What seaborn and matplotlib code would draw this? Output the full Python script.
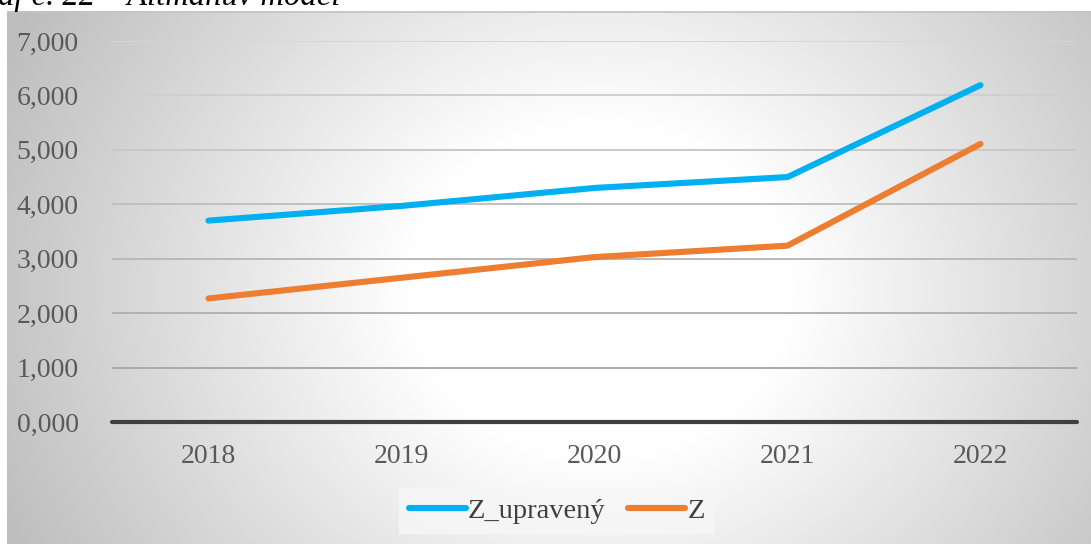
import numpy as np
import pandas as pd
import matplotlib
matplotlib.use("Agg")
import matplotlib.pyplot as plt
import seaborn as sns
from matplotlib.ticker import FuncFormatter

# values
years = ["2018", "2019", "2020", "2021", "2022"]
z_upraveny = [3.70, 3.97, 4.30, 4.50, 6.19]
z = [2.27, 2.65, 3.03, 3.24, 5.11]
series_names = ["Z_upravený", "Z"]
yticks = [0, 1, 2, 3, 4, 5, 6, 7]

df = pd.DataFrame({
    "year": years * 2,
    "value": z_upraveny + z,
    "series": [series_names[0]] * len(years) + [series_names[1]] * len(years),
})

sns.set_theme(style="white")
plt.rcParams["font.family"] = ["Liberation Serif", "DejaVu Serif"]

W, H = 1091, 544
fig = plt.figure(figsize=(W / 100, H / 100), dpi=100)
fig.patch.set_facecolor("white")

# chart area with radial gradient (white centre, grey edges)
box_l, box_t = 7, 11
bg = fig.add_axes([box_l / W, 0, 1 - box_l / W, (H - box_t) / H])
bw, bh = W - box_l, H - box_t
xx, yy = np.meshgrid(np.arange(bw) + box_l, np.arange(bh) + box_t)
d = np.hypot(xx - 600, (yy - 290) * 1.15)
t = np.clip((d - 190) / 470, 0, 1)
lvl = (255 - t * 66) / 255
img = np.dstack([lvl, lvl, lvl])
bg.imshow(img, aspect="auto", interpolation="bilinear")
bg.plot([-0.5, bw], [0.2, 0.2], color="#c4c4c4", lw=1.2)
bg.set_xlim(-0.5, bw - 0.5)
bg.set_ylim(bh - 0.5, -0.5)
bg.set_axis_off()

ax = fig.add_axes([112 / W, (H - 422) / H, (1077 - 112) / W, (422 - 41) / H])
ax.set_facecolor("none")

palette = {series_names[0]: "#00B0F0", series_names[1]: "#ED7D31"}
sns.lineplot(data=df, x="year", y="value", hue="series", palette=palette,
             linewidth=4.4, ax=ax, legend=False, sort=False,
             solid_capstyle="round")

ax.set_xlim(-0.5, 4.5)
ax.set_ylim(0, 7)
ax.set_yticks(yticks)
ax.yaxis.set_major_formatter(FuncFormatter(lambda v, p: f"{v:.3f}".replace(".", ",")))
ax.set_xlabel("")
ax.set_ylabel("")
ax.tick_params(axis="both", length=0, labelsize=20, colors="#595959")
ax.tick_params(axis="y", pad=24)
ax.tick_params(axis="x", pad=16)
for s in ax.spines.values():
    s.set_visible(False)

ax.grid(axis="y", linewidth=1.4)
ax.set_axisbelow(True)
glines = ax.get_ygridlines()
for i, gl in enumerate(glines):
    g = 0.64 + 0.2 * i / max(len(glines) - 1, 1)
    gl.set_color((g, g, g))
ax.axhline(0, color="#404040", linewidth=3, zorder=2, clip_on=False)

# legend
handles = [plt.Line2D([], [], color=palette[n], lw=4.4, solid_capstyle="round")
           for n in series_names]
leg = fig.legend(handles, series_names, loc="center",
                 bbox_to_anchor=(557 / W, 1 - 511 / H), ncol=2, fontsize=20.5,
                 frameon=True, handlelength=2.0, handletextpad=0.08,
                 columnspacing=0.8, borderpad=0.35, borderaxespad=0,
                 fancybox=False)
leg.get_frame().set_facecolor("#f6f6f6")
leg.get_frame().set_edgecolor("none")
leg.get_frame().set_alpha(0.9)
for txt in leg.get_texts():
    txt.set_color("#404040")

# caption cut off by the top edge
fig.text(-0.002, 1 - 5 / H, "af č. 22 – Altmanův model", fontsize=23.5,
         style="italic", color="black", va="baseline", ha="left")

fig.savefig("out.png", dpi=100)
